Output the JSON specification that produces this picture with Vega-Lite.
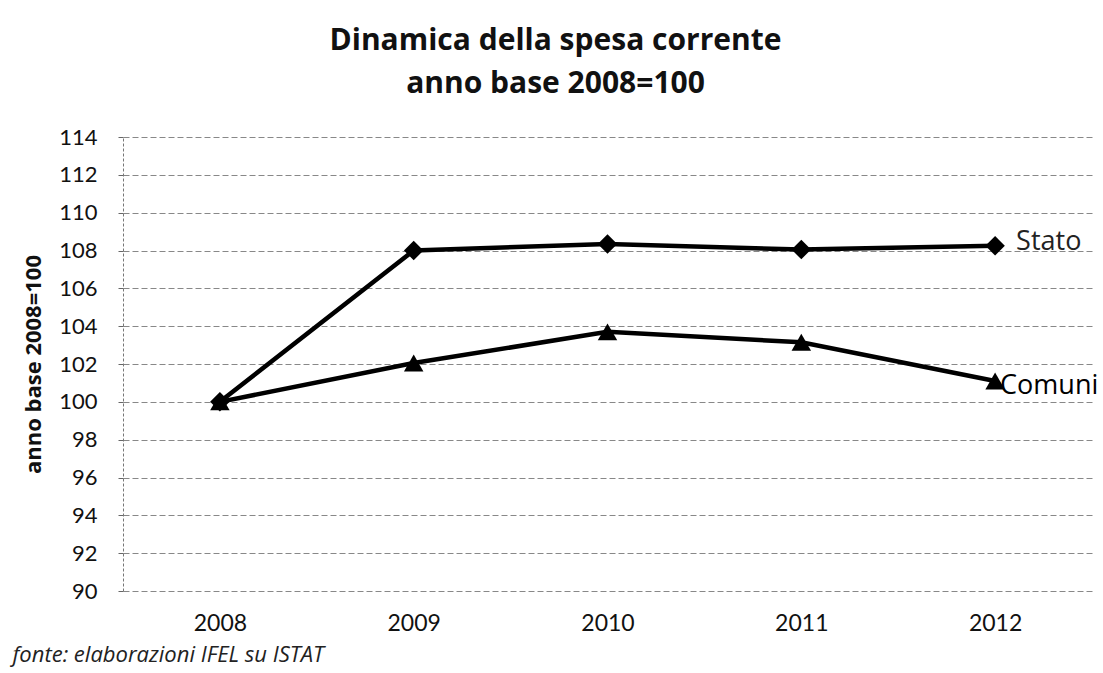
{
  "$schema": "https://vega.github.io/schema/vega-lite/v6.json",
  "autosize": "none",
  "width": 969,
  "height": 454,
  "padding": {"left": 123, "top": 137, "right": 11, "bottom": 82},
  "background": "white",
  "config": {
    "font": "Lato",
    "view": {"stroke": null}
  },
  "title": {
    "text": ["Dinamica della spesa corrente", "anno base 2008=100"],
    "fontSize": 30,
    "fontWeight": "bold",
    "font": "Open Sans",
    "color": "#111",
    "lineHeight": 43,
    "anchor": "middle",
    "frame": "group",
    "dx": -52,
    "offset": 27
  },
  "data": {
    "values": [
      {"year": "2008", "serie": "Stato", "value": 100},
      {"year": "2009", "serie": "Stato", "value": 108.0},
      {"year": "2010", "serie": "Stato", "value": 108.35},
      {"year": "2011", "serie": "Stato", "value": 108.05},
      {"year": "2012", "serie": "Stato", "value": 108.25},
      {"year": "2008", "serie": "Comuni", "value": 100},
      {"year": "2009", "serie": "Comuni", "value": 102.05},
      {"year": "2010", "serie": "Comuni", "value": 103.7},
      {"year": "2011", "serie": "Comuni", "value": 103.15},
      {"year": "2012", "serie": "Comuni", "value": 101.1}
    ]
  },
  "encoding": {
    "x": {
      "field": "year",
      "type": "ordinal",
      "scale": {"type": "point", "padding": 0.5},
      "axis": {
        "labelAngle": 0,
        "labelFontSize": 23,
        "labelColor": "#111",
        "labelPadding": 21,
        "ticks": false,
        "domain": false,
        "grid": false,
        "title": "fonte: elaborazioni IFEL su ISTAT",
        "titleFont": "Open Sans",
        "titleFontStyle": "italic",
        "titleFontWeight": "normal",
        "titleFontSize": 22,
        "titleColor": "#222",
        "titleAnchor": "start",
        "titleAlign": "left",
        "titleBaseline": "middle",
        "titleX": -111,
        "titleY": 63
      }
    },
    "y": {
      "field": "value",
      "type": "quantitative",
      "scale": {"domain": [90, 114], "nice": false, "zero": false},
      "axis": {
        "values": [90, 92, 94, 96, 98, 100, 102, 104, 106, 108, 110, 112, 114],
        "labelFontSize": 22,
        "labelColor": "#111",
        "labelPadding": 21,
        "tickSize": 5,
        "tickColor": "#666",
        "domainColor": "#777",
        "domainDash": [3, 2],
        "grid": true,
        "gridColor": "#888",
        "gridDash": [6, 3],
        "gridWidth": 1,
        "title": "anno base 2008=100",
        "titleFont": "Open Sans",
        "titleFontSize": 22,
        "titleFontWeight": "bold",
        "titleColor": "#111",
        "titlePadding": 13
      }
    }
  },
  "layer": [
    {
      "mark": {"type": "line", "color": "#000", "strokeWidth": 4.5},
      "encoding": {"detail": {"field": "serie"}}
    },
    {
      "mark": {"type": "point", "filled": true, "color": "#000", "opacity": 1, "size": 380},
      "encoding": {
        "shape": {
          "field": "serie",
          "scale": {"domain": ["Stato", "Comuni"], "range": ["diamond", "triangle-up"]},
          "legend": null
        }
      }
    },
    {
      "transform": [{"filter": "datum.year == '2012' && datum.serie == 'Stato'"}],
      "mark": {"type": "text", "align": "left", "baseline": "middle", "dx": 21, "dy": -4, "fontSize": 27, "font": "Open Sans", "color": "#222"},
      "encoding": {"text": {"field": "serie"}}
    },
    {
      "transform": [{"filter": "datum.year == '2012' && datum.serie == 'Comuni'"}],
      "mark": {"type": "text", "align": "left", "baseline": "middle", "dx": 5, "dy": 5, "fontSize": 27, "font": "Open Sans", "color": "#000"},
      "encoding": {"text": {"field": "serie"}}
    }
  ]
}
